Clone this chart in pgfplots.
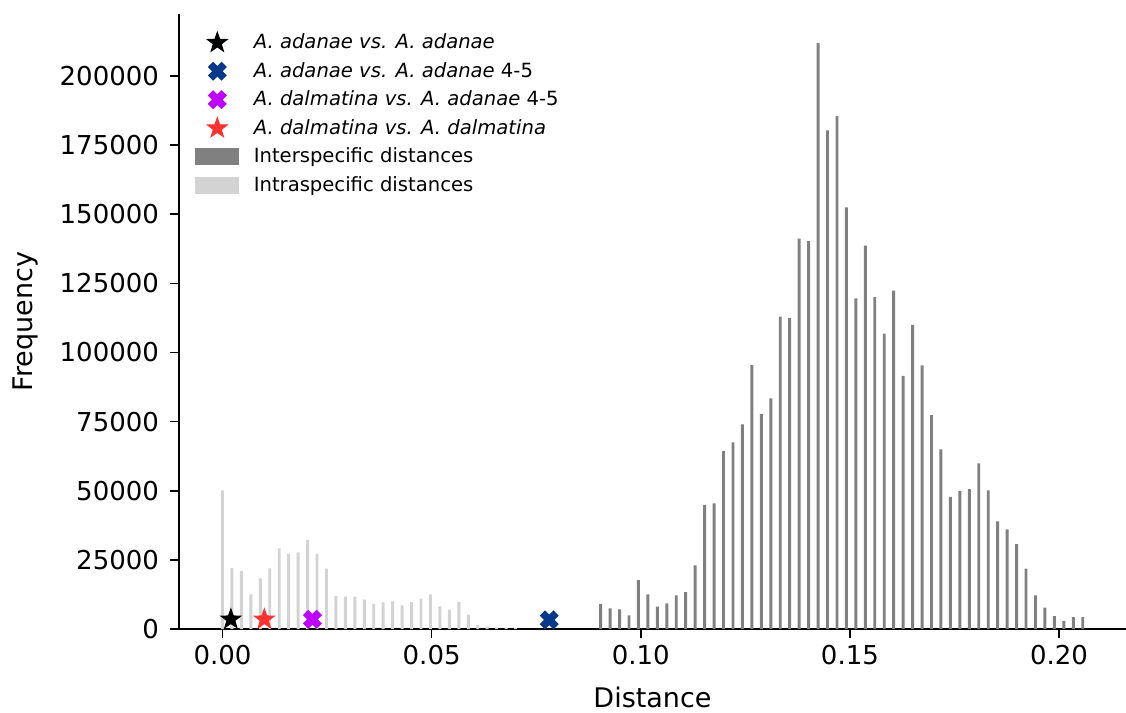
\documentclass[border=0pt]{standalone}
\usepackage{fontspec}
\setmainfont{DejaVu Sans}
\usepackage{pgfplots}
\pgfplotsset{compat=1.18}
\usetikzlibrary{calc}
\definecolor{darkbar}{RGB}{128,128,128}
\definecolor{lightbar}{RGB}{211,211,211}
\definecolor{navyx}{RGB}{8,56,138}
\definecolor{purplex}{RGB}{190,0,255}
\definecolor{redstar}{RGB}{255,50,50}

\pgfdeclareplotmark{fstar}{%
\pgfpathmoveto{\pgfpointpolar{90}{\pgfplotmarksize}}%
\pgfpathlineto{\pgfpointpolar{126}{0.40\pgfplotmarksize}}%
\pgfpathlineto{\pgfpointpolar{162}{\pgfplotmarksize}}%
\pgfpathlineto{\pgfpointpolar{198}{0.40\pgfplotmarksize}}%
\pgfpathlineto{\pgfpointpolar{234}{\pgfplotmarksize}}%
\pgfpathlineto{\pgfpointpolar{270}{0.40\pgfplotmarksize}}%
\pgfpathlineto{\pgfpointpolar{306}{\pgfplotmarksize}}%
\pgfpathlineto{\pgfpointpolar{342}{0.40\pgfplotmarksize}}%
\pgfpathlineto{\pgfpointpolar{18}{\pgfplotmarksize}}%
\pgfpathlineto{\pgfpointpolar{54}{0.40\pgfplotmarksize}}%
\pgfpathclose\pgfusepathqfillstroke}

\pgfdeclareplotmark{fX}{%
\pgfpathmoveto{\pgfpoint{-0.46\pgfplotmarksize}{0.955\pgfplotmarksize}}%
\pgfpathlineto{\pgfpoint{0pt}{0.495\pgfplotmarksize}}%
\pgfpathlineto{\pgfpoint{0.46\pgfplotmarksize}{0.955\pgfplotmarksize}}%
\pgfpathlineto{\pgfpoint{0.955\pgfplotmarksize}{0.46\pgfplotmarksize}}%
\pgfpathlineto{\pgfpoint{0.495\pgfplotmarksize}{0pt}}%
\pgfpathlineto{\pgfpoint{0.955\pgfplotmarksize}{-0.46\pgfplotmarksize}}%
\pgfpathlineto{\pgfpoint{0.46\pgfplotmarksize}{-0.955\pgfplotmarksize}}%
\pgfpathlineto{\pgfpoint{0pt}{-0.495\pgfplotmarksize}}%
\pgfpathlineto{\pgfpoint{-0.46\pgfplotmarksize}{-0.955\pgfplotmarksize}}%
\pgfpathlineto{\pgfpoint{-0.955\pgfplotmarksize}{-0.46\pgfplotmarksize}}%
\pgfpathlineto{\pgfpoint{-0.495\pgfplotmarksize}{0pt}}%
\pgfpathlineto{\pgfpoint{-0.955\pgfplotmarksize}{0.46\pgfplotmarksize}}%
\pgfpathclose\pgfusepathqfillstroke}

\begin{document}
\begin{tikzpicture}
\begin{axis}[
  scale only axis, width=473.5pt, height=307.5pt,
  xmin=-0.0104, xmax=0.216, ymin=0, ymax=222400,
  axis x line*=bottom, axis y line*=left,
  axis line style={line width=0.8pt, black},
  tick align=outside, major tick length=4.5pt,
  tick style={line width=0.8pt, black},
  xtick={0,0.05,0.1,0.15,0.2},
  xticklabels={0.00,0.05,0.10,0.15,0.20},
  ytick={0,25000,50000,75000,100000,125000,150000,175000,200000},
  yticklabels={0,25000,50000,75000,100000,125000,150000,175000,200000},
  scaled x ticks=false, scaled y ticks=false,
  ticklabel style={font=\fontsize{13}{15}\selectfont},
  yticklabel style={xshift=-2pt},
  /pgf/number format/assume math mode=true,
  xlabel={Distance}, ylabel={Frequency},
  label style={font=\fontsize{13.5}{16}\selectfont},
  xlabel style={at={(axis description cs:0.5,-0.1106)}, anchor=center},
  ylabel style={at={(axis description cs:-0.1626,0.5)}, anchor=center},
  clip=false,
  legend cell align=left,
  legend style={draw=none, fill=none, at={(axis description cs:0.0169,0.975)},
    anchor=north west, font=\fontsize{9.8}{12}\selectfont, row sep=1.3pt,
    inner sep=0pt},
  legend image code/.code={\draw[mark repeat=2,mark phase=2,#1] plot coordinates {(0pt,0pt)(10.75pt,0pt)(21.5pt,0pt)};\path[draw=none,fill=none] (0pt,0pt) -- (27pt,0pt);},
]
% intraspecific distances
\addplot[ybar, bar width=0.0007, bar shift=0pt, fill=lightbar, draw=none, forget plot] coordinates {
(0,50100) (0.00226,22100) (0.00452,20900) (0.00678,12500) (0.00904,18300)
(0.0113,21900) (0.01356,29200) (0.01582,27200) (0.01808,27700) (0.02034,32200)
(0.0226,27200) (0.02486,21800) (0.02712,12000) (0.02938,11700) (0.03164,11700)
(0.0339,10600) (0.03616,9100) (0.03842,9600) (0.04068,10000) (0.04294,8500)
(0.0452,9700) (0.04746,11000) (0.04972,12500) (0.05198,8200) (0.05424,7000)
(0.0565,9800) (0.05876,5200) (0.06102,1500) (0.06328,900) (0.06554,600)
(0.0678,500) (0.07006,400)
};
% interspecific distances
\addplot[ybar, bar width=0.0007, bar shift=0pt, fill=darkbar, draw=none, forget plot] coordinates {
(0.0904,9000) (0.09266,7500) (0.09492,7100) (0.09718,4950) (0.09944,17700)
(0.1017,12500) (0.10396,8100) (0.10622,9300) (0.10848,12200) (0.11074,13300)
(0.113,23000) (0.11526,44900) (0.11752,45400) (0.11978,64400) (0.12204,67500)
(0.1243,74000) (0.12656,95400) (0.12882,77800) (0.13108,83400) (0.13334,113000)
(0.1356,112500) (0.13786,141200) (0.14012,140300) (0.14238,211900) (0.14464,180300)
(0.1469,185500) (0.14916,152500) (0.15142,119600) (0.15368,138600) (0.15594,120000)
(0.1582,106800) (0.16046,122400) (0.16272,91500) (0.16498,110000) (0.16724,95300)
(0.1695,77300) (0.17176,65000) (0.17402,47800) (0.17628,49900) (0.17854,50600)
(0.1808,59900) (0.18306,50100) (0.18532,38900) (0.18758,36000) (0.18984,30700)
(0.1921,21800) (0.19436,12200) (0.19662,7700) (0.19888,4700) (0.20114,2900)
(0.2034,4300) (0.20566,4300)
};
\addplot[only marks, mark=fstar, mark size=5.2pt, black, mark options={line width=0.5pt}] coordinates {(0.002,3500)};
\addlegendentry{\textit{A. adanae vs. A. adanae}}
\addplot[only marks, mark=fX, mark size=4.6pt, navyx, mark options={line width=0.5pt}] coordinates {(0.0781,3300)};
\addlegendentry{\textit{A. adanae vs. A. adanae} 4-5}
\addplot[only marks, mark=fX, mark size=4.6pt, purplex, mark options={line width=0.5pt}] coordinates {(0.0215,3500)};
\addlegendentry{\textit{A. dalmatina vs. A. adanae} 4-5}
\addplot[only marks, mark=fstar, mark size=5.2pt, redstar, mark options={line width=0.5pt}] coordinates {(0.010,3500)};
\addlegendentry{\textit{A. dalmatina vs. A. dalmatina}}
\addlegendimage{legend image code/.code={\fill[darkbar] (0pt,-4pt) rectangle (21.5pt,4pt);\path[draw=none,fill=none] (0pt,0pt) -- (27pt,0pt);}}
\addlegendentry{Interspecific distances}
\addlegendimage{legend image code/.code={\fill[lightbar] (0pt,-4pt) rectangle (21.5pt,4pt);\path[draw=none,fill=none] (0pt,0pt) -- (27pt,0pt);}}
\addlegendentry{Intraspecific distances}
\end{axis}
\pgfresetboundingbox
\path ($(current axis.south west)+(-89.5pt,-42pt)$) rectangle ($(current axis.north east)+(0pt,7pt)$);
\end{tikzpicture}
\end{document}
